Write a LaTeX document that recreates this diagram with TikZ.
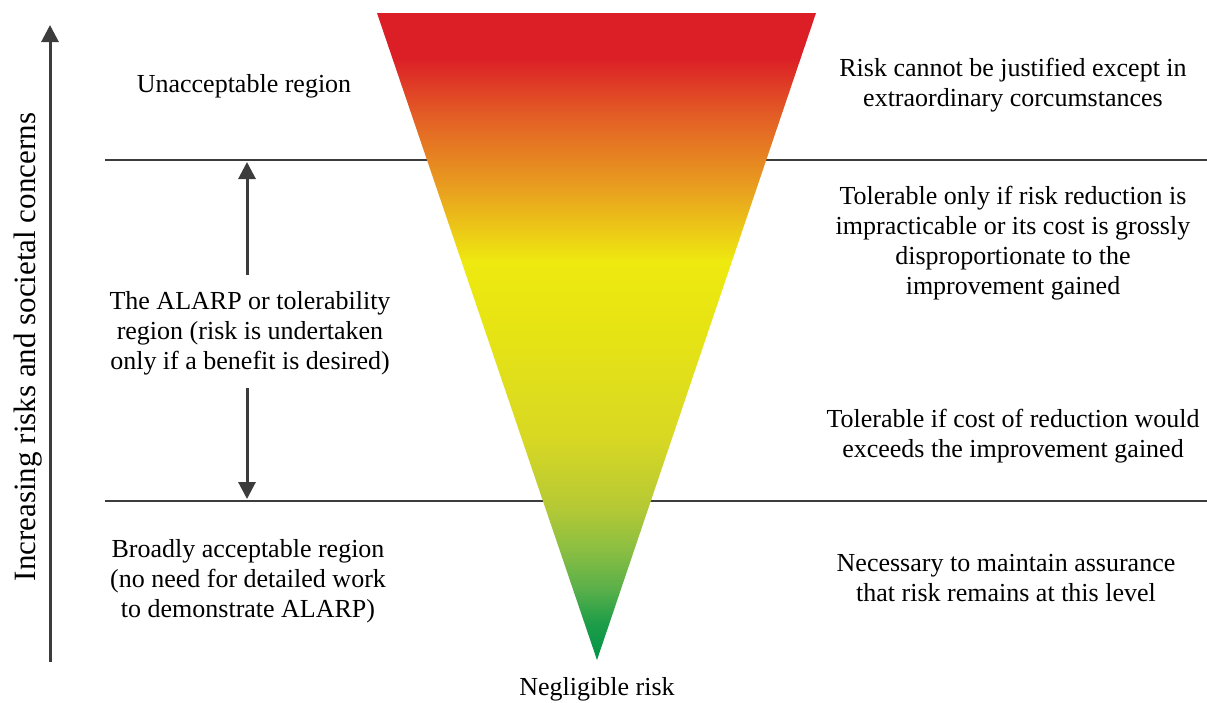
\documentclass[tikz,border=0pt]{standalone}
\usepackage{fontspec}
\setmainfont{Liberation Serif}
\usetikzlibrary{arrows.meta}

\definecolor{rGreenA}{HTML}{009447}
\definecolor{rGreenB}{HTML}{1F9D48}
\definecolor{rGreenC}{HTML}{5AB04A}
\definecolor{rGreenD}{HTML}{8DBF41}
\definecolor{rGreenE}{HTML}{B5C934}
\definecolor{rYelA}{HTML}{D8D823}
\definecolor{rYelB}{HTML}{E6E315}
\definecolor{rYelC}{HTML}{EEE90F}
\definecolor{rOraA}{HTML}{E9A21F}
\definecolor{rOraB}{HTML}{E35F25}
\definecolor{rRed}{HTML}{DC1F26}
\definecolor{ink}{HTML}{3C3C3C}

% Colour ramp of the risk triangle, from negligible (bottom) to intolerable (top)
\pgfdeclareverticalshading{riskramp}{100bp}{%
  color(0bp)=(rGreenA);
  color(25bp)=(rGreenA);
  color(27.9bp)=(rGreenB);
  color(30.5bp)=(rGreenC);
  color(33.7bp)=(rGreenD);
  color(36.8bp)=(rGreenE);
  color(42.2bp)=(rYelA);
  color(50bp)=(rYelB);
  color(55.8bp)=(rYelC);
  color(61.2bp)=(rOraA);
  color(67bp)=(rOraB);
  color(71.5bp)=(rRed);
  color(75bp)=(rRed);
  color(100bp)=(rRed)}

\begin{document}
\begin{tikzpicture}[x=1pt,y=-1pt,
  lbl/.style={align=center,font=\fontsize{26}{30}\selectfont,inner sep=0pt,text=black},
  rule/.style={draw=ink,line width=2.8pt},
  pointer/.style={draw=ink,line width=3pt,-{Triangle[width=17pt,length=17pt]}}]
  \useasboundingbox (0,0) rectangle (1207,702);

  % region boundaries
  \coordinate (hiL) at (105,160);
  \coordinate (hiR) at (1207,160);
  \coordinate (loL) at (105,501);
  \coordinate (loR) at (1207,501);
  \draw[rule] (hiL) -- (hiR);
  \draw[rule] (loL) -- (loR);

  % the risk triangle
  \coordinate (tl) at (377,13);
  \coordinate (tr) at (816,13);
  \coordinate (apex) at (597,660);
  \shade[shading=riskramp] (tl) -- (tr) -- (apex) -- cycle;

  % vertical axis
  \coordinate (axB) at (50,662);
  \coordinate (axT) at (50,25);
  \draw[pointer] (axB) -- (axT);
  \node[font=\fontsize{31}{36}\selectfont,rotate=90,anchor=base,inner sep=0pt]
    (axis) at (35,347) {Increasing risks and societal concerns};

  % left-hand region labels
  \node[lbl] (unacc) at (244,86) {Unacceptable region};
  \node[lbl] (alarp) at (250,333) {The ALARP or tolerability\\region (risk is undertaken\\only if a benefit is desired)};
  \node[lbl] (broad) at (248,581) {Broadly acceptable region\\(no need for detailed work\\to demonstrate ALARP)};

  % extent of the ALARP region
  \coordinate (upTip) at (247,162);
  \coordinate (dnTip) at (247,499);
  \draw[pointer] (247,275) -- (upTip);
  \draw[pointer] (247,388) -- (dnTip);

  % right-hand descriptions
  \node[lbl] (justify) at (1013,85) {Risk cannot be justified except in\\extraordinary corcumstances};
  \node[lbl] (tolonly) at (1013,243) {Tolerable only if risk reduction is\\impracticable or its cost is grossly\\disproportionate to the\\improvement gained};
  \node[lbl] (tolif) at (1013,436) {Tolerable if cost of reduction would\\exceeds the improvement gained};
  \node[lbl] (maintain) at (1006,578) {Necessary to maintain assurance\\that risk remains at this level};

  \node[lbl,anchor=base] (neglig) at (597,695) {Negligible risk};
\end{tikzpicture}
\end{document}
